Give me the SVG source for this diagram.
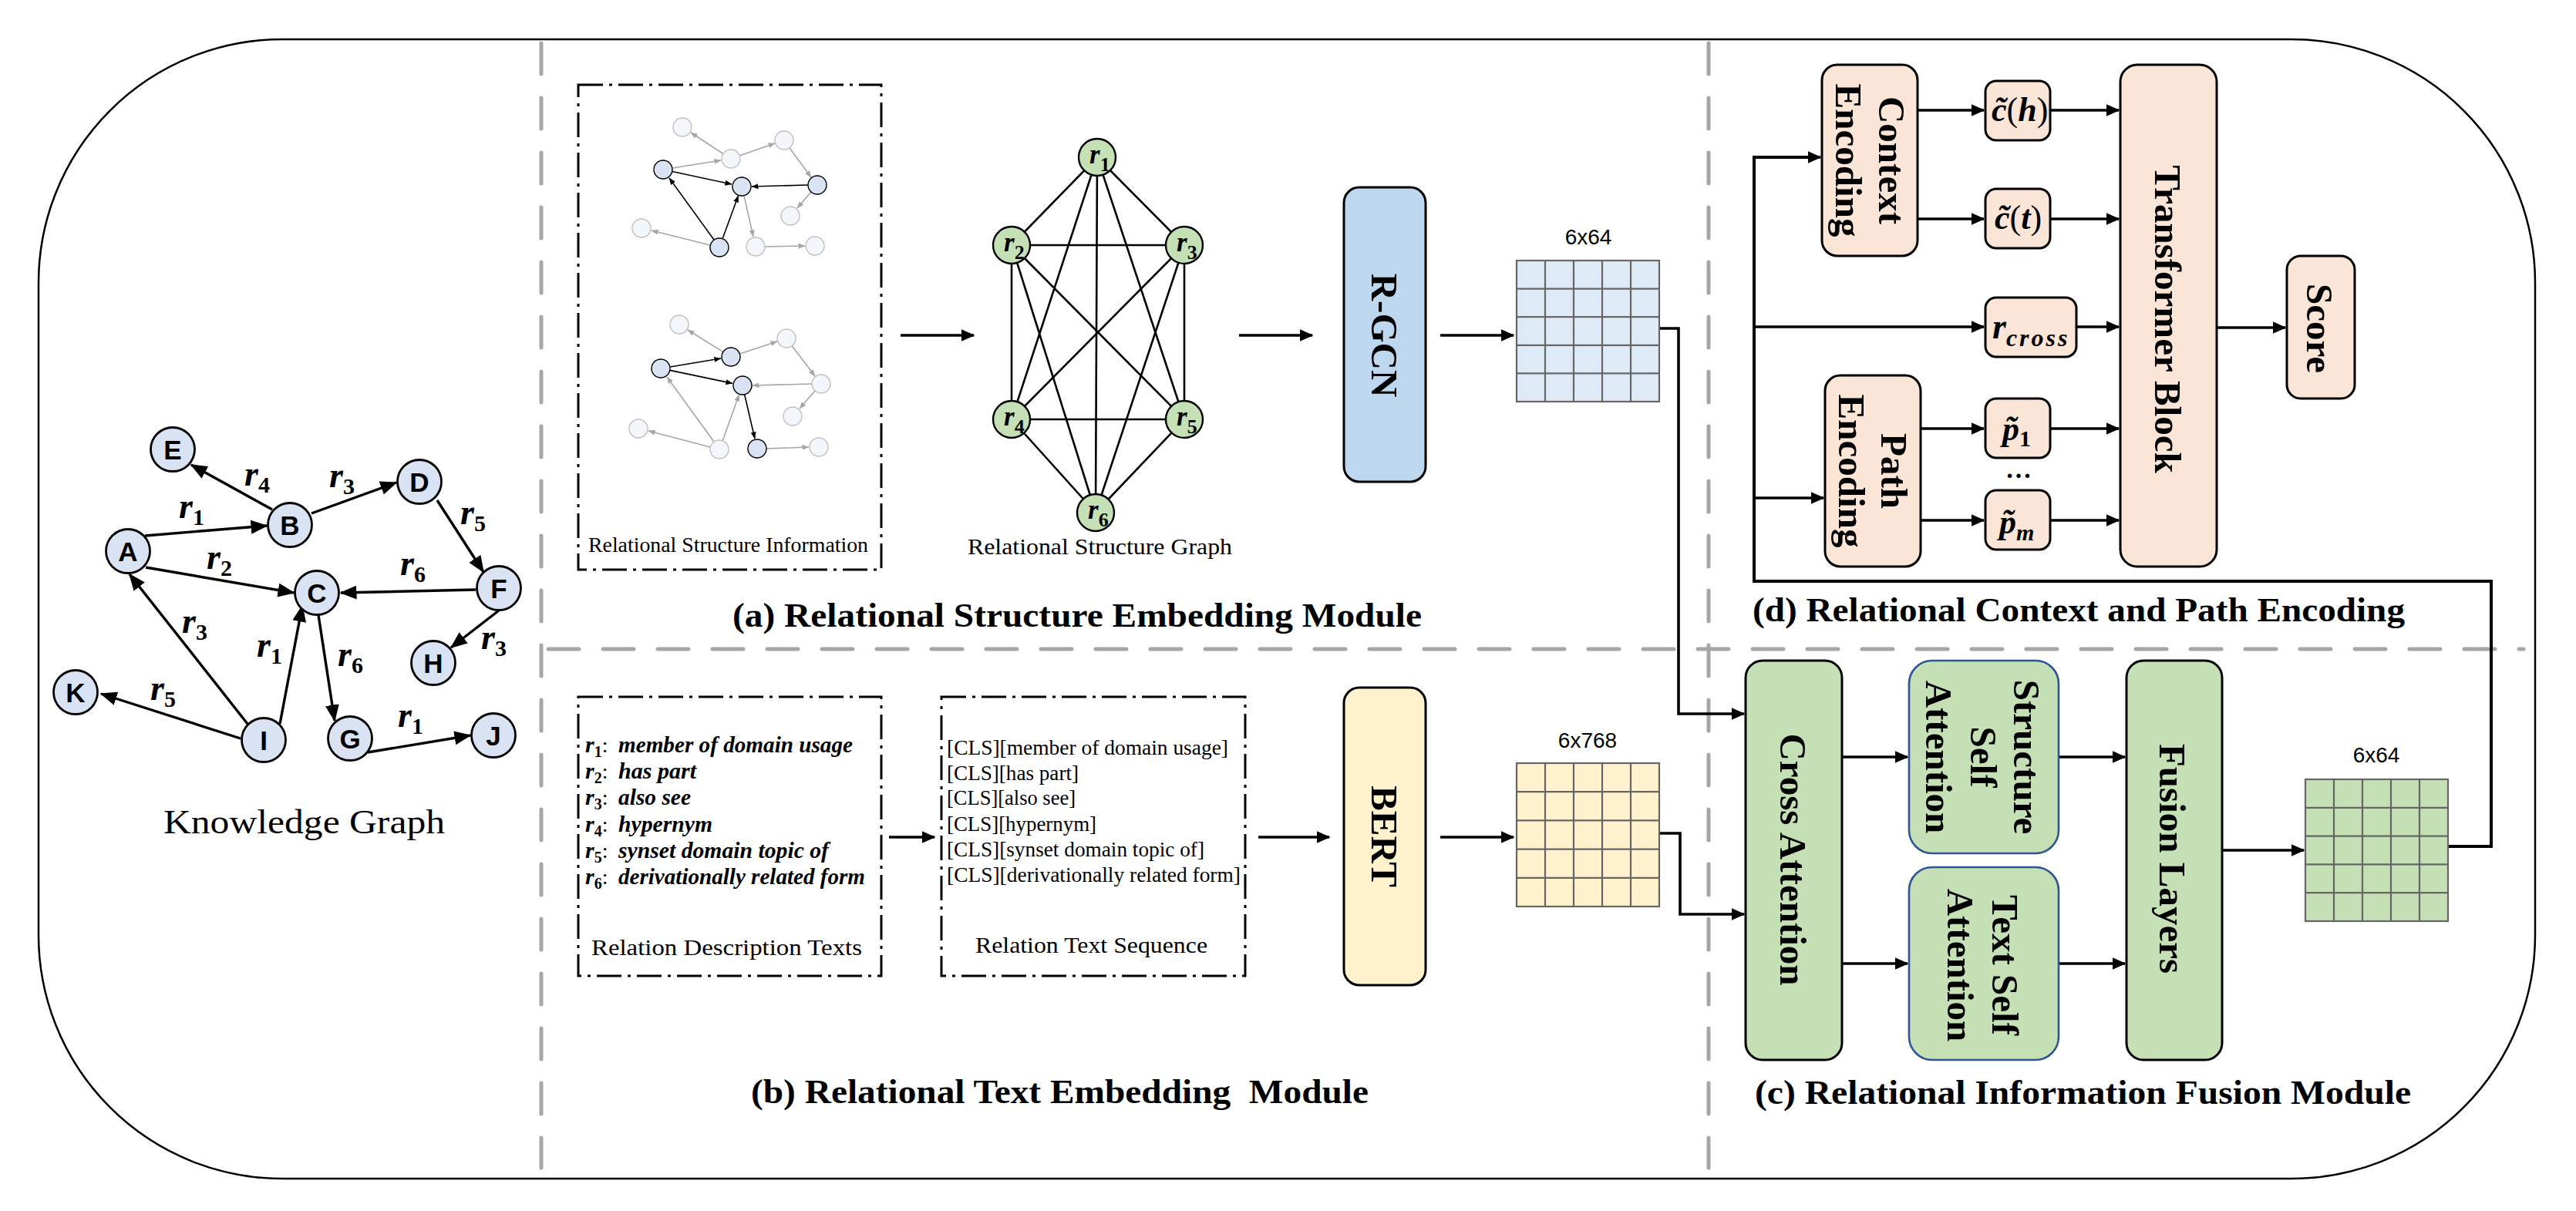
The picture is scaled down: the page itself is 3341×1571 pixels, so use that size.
<svg xmlns="http://www.w3.org/2000/svg" width="3341" height="1571" viewBox="0 0 3341 1571">
<defs>
<marker id="ah" markerUnits="userSpaceOnUse" markerWidth="18" markerHeight="16" viewBox="0 0 18 16" refX="16.5" refY="8" orient="auto"><path d="M0,0 L18,8 L0,16 z" fill="#000"/></marker>
<marker id="ahk" markerUnits="userSpaceOnUse" markerWidth="22" markerHeight="18" viewBox="0 0 22 18" refX="20.5" refY="9" orient="auto"><path d="M0,0 L22,9 L0,18 z" fill="#000"/></marker>
<marker id="ahs" markerUnits="userSpaceOnUse" markerWidth="9" markerHeight="7" viewBox="0 0 9 7" refX="8.5" refY="3.5" orient="auto"><path d="M0,0 L9,3.5 L0,7 z" fill="#000"/></marker>
<marker id="ahg" markerUnits="userSpaceOnUse" markerWidth="9" markerHeight="7" viewBox="0 0 9 7" refX="8.5" refY="3.5" orient="auto"><path d="M0,0 L9,3.5 L0,7 z" fill="#A6A6A6"/></marker>
</defs>
<style>
.border{fill:none;stroke:#000;stroke-width:2.5}
.gdash{fill:none;stroke:#A6A6A6;stroke-width:5;stroke-linecap:round;stroke-dasharray:40 31}
.ddot{fill:none;stroke:#000;stroke-width:3;stroke-dasharray:32 8 4 8}
.conn{fill:none;stroke:#000;stroke-width:3.6;marker-end:url(#ah)}
.loop{fill:none;stroke:#000;stroke-width:4}
.kge{fill:none;stroke:#000;stroke-width:3.4;marker-end:url(#ahk)}
.rse{fill:none;stroke:#000;stroke-width:2.6}
.sd{fill:none;stroke:#000;stroke-width:1.6;marker-end:url(#ahs)}
.sg{fill:none;stroke:#A6A6A6;stroke-width:1.6;marker-end:url(#ahg)}
.nd{fill:#DAE3F3;stroke:#000;stroke-width:1.4}
.ng{fill:#F3F6FB;stroke:#C0C0C0;stroke-width:1.4}
.kgn{fill:#DAE3F3;stroke:#000;stroke-width:2.8}
.rsn{fill:#C5E0B4;stroke:#000;stroke-width:2.4}
.blue{fill:#BDD7EE;stroke:#000;stroke-width:3}
.yel{fill:#FFF2CC;stroke:#000;stroke-width:3}
.peach{fill:#FBE5D6;stroke:#000;stroke-width:3}
.green{fill:#C5E0B4;stroke:#000;stroke-width:3}
.greenb{fill:#C5E0B4;stroke:#2F5597;stroke-width:2.6}
.grid{stroke:#666;stroke-width:2.2}
.serif{font-family:"Liberation Serif",serif}
.lab{font-family:"Liberation Serif",serif;font-weight:bold;font-size:45px}
.cap{font-family:"Liberation Serif",serif;font-size:30px}
.vt{font-family:"Liberation Serif",serif;font-weight:bold;font-size:49px;text-anchor:middle}
.mi{font-family:"Liberation Serif",serif;font-weight:bold;font-style:italic}
.up{font-style:normal}
.dim{font-family:"Liberation Sans",sans-serif;font-size:28px;text-anchor:middle}
.kgl{font-family:"Liberation Sans",sans-serif;font-weight:bold;font-size:35px;text-anchor:middle}
.desc{font-family:"Liberation Serif",serif;font-style:italic;font-weight:bold;font-size:30px}
.cls{font-family:"Liberation Serif",serif;font-size:28px}
</style>
<rect width="3341" height="1571" fill="#fff"/>

<!-- outer frame and panel separators -->
<g id="frame">
<rect class="border" x="50" y="51" width="3238" height="1478" rx="316" ry="316"/>
<line class="gdash" x1="702" y1="56" x2="702" y2="1515"/>
<line class="gdash" x1="2216" y1="56" x2="2216" y2="1515"/>
<line class="gdash" x1="711" y1="842" x2="3273" y2="842"/>
</g>

<!-- section labels -->
<g id="labels">
<text class="lab" x="950" y="813" textLength="894" lengthAdjust="spacingAndGlyphs">(a) Relational Structure Embedding Module</text>
<text class="lab" x="974" y="1431" textLength="801" lengthAdjust="spacingAndGlyphs" xml:space="preserve">(b) Relational Text Embedding  Module</text>
<text class="lab" x="2276" y="1432" textLength="851" lengthAdjust="spacingAndGlyphs">(c) Relational Information Fusion Module</text>
<text class="lab" x="2273" y="806" textLength="846" lengthAdjust="spacingAndGlyphs">(d) Relational Context and Path Encoding</text>
<text class="serif" x="212" y="1081" font-size="44" textLength="365" lengthAdjust="spacingAndGlyphs">Knowledge Graph</text>
</g>

<!-- connectors -->
<g id="connectors">
<!-- knowledge graph edges -->
<line class="kge" x1="353" y1="661" x2="248" y2="603"/>
<line class="kge" x1="188" y1="695" x2="346" y2="682"/>
<line class="kge" x1="404" y1="666" x2="514" y2="626"/>
<line class="kge" x1="567" y1="649" x2="627" y2="742"/>
<line class="kge" x1="189" y1="736" x2="381" y2="769"/>
<line class="kge" x1="617" y1="765" x2="442" y2="769"/>
<line class="kge" x1="647" y1="792" x2="585" y2="840"/>
<line class="kge" x1="321" y1="939" x2="168" y2="745"/>
<line class="kge" x1="363" y1="939" x2="392" y2="786"/>
<line class="kge" x1="413" y1="798" x2="434" y2="935"/>
<line class="kge" x1="312" y1="958" x2="131" y2="900"/>
<line class="kge" x1="477" y1="976" x2="610" y2="954"/>

<!-- relational structure graph (complete graph) -->
<g id="rs-graph-edges">
<line class="rse" x1="1423" y1="204" x2="1312" y2="318"/>
<line class="rse" x1="1423" y1="204" x2="1536" y2="318"/>
<line class="rse" x1="1423" y1="204" x2="1312" y2="544"/>
<line class="rse" x1="1423" y1="204" x2="1536" y2="544"/>
<line class="rse" x1="1423" y1="204" x2="1421" y2="665"/>
<line class="rse" x1="1312" y1="318" x2="1536" y2="318"/>
<line class="rse" x1="1312" y1="318" x2="1312" y2="544"/>
<line class="rse" x1="1312" y1="318" x2="1536" y2="544"/>
<line class="rse" x1="1312" y1="318" x2="1421" y2="665"/>
<line class="rse" x1="1536" y1="318" x2="1312" y2="544"/>
<line class="rse" x1="1536" y1="318" x2="1536" y2="544"/>
<line class="rse" x1="1536" y1="318" x2="1421" y2="665"/>
<line class="rse" x1="1312" y1="544" x2="1536" y2="544"/>
<line class="rse" x1="1312" y1="544" x2="1421" y2="665"/>
<line class="rse" x1="1536" y1="544" x2="1421" y2="665"/>
</g>

<!-- panel a flow -->
<line class="conn" x1="1168" y1="435" x2="1263" y2="435"/>
<line class="conn" x1="1607" y1="435" x2="1702" y2="435"/>
<line class="conn" x1="1868" y1="435" x2="1963" y2="435"/>
<path class="conn" d="M2152,426 H2177 V926 H2262"/>
<!-- panel b flow -->
<line class="conn" x1="1153" y1="1086" x2="1212" y2="1086"/>
<line class="conn" x1="1632" y1="1086" x2="1724" y2="1086"/>
<line class="conn" x1="1868" y1="1086" x2="1963" y2="1086"/>
<path class="conn" d="M2152,1081 H2179 V1186 H2262"/>
<!-- panel c flow -->
<line class="conn" x1="2389" y1="982" x2="2474" y2="982"/>
<line class="conn" x1="2389" y1="1250" x2="2474" y2="1250"/>
<line class="conn" x1="2670" y1="982" x2="2756" y2="982"/>
<line class="conn" x1="2670" y1="1250" x2="2756" y2="1250"/>
<line class="conn" x1="2882" y1="1103" x2="2988" y2="1103"/>
<!-- feedback loop into panel d -->
<path class="loop" d="M3175,1098 H3231 V754 H2275 V204 H2345"/>
<line class="conn" x1="2340" y1="204" x2="2361" y2="204"/>
<line class="conn" x1="2275" y1="424" x2="2573" y2="424"/>
<line class="conn" x1="2275" y1="646" x2="2365" y2="646"/>
<!-- panel d flow -->
<line class="conn" x1="2487" y1="143" x2="2573" y2="143"/>
<line class="conn" x1="2659" y1="143" x2="2748" y2="143"/>
<line class="conn" x1="2487" y1="284" x2="2573" y2="284"/>
<line class="conn" x1="2659" y1="284" x2="2748" y2="284"/>
<line class="conn" x1="2693" y1="424" x2="2748" y2="424"/>
<line class="conn" x1="2491" y1="556" x2="2573" y2="556"/>
<line class="conn" x1="2659" y1="556" x2="2748" y2="556"/>
<line class="conn" x1="2491" y1="675" x2="2573" y2="675"/>
<line class="conn" x1="2659" y1="675" x2="2748" y2="675"/>
<line class="conn" x1="2875" y1="425" x2="2964" y2="425"/>
</g>

<!-- knowledge graph nodes -->
<g id="kg-A"><circle class="kgn" cx="166" cy="715" r="28.5"/><text class="kgl" x="166" y="728">A</text></g>
<g id="kg-B"><circle class="kgn" cx="376" cy="681" r="28.5"/><text class="kgl" x="376" y="694">B</text></g>
<g id="kg-C"><circle class="kgn" cx="411" cy="769" r="28.5"/><text class="kgl" x="411" y="782">C</text></g>
<g id="kg-D"><circle class="kgn" cx="544" cy="625" r="28.5"/><text class="kgl" x="544" y="638">D</text></g>
<g id="kg-E"><circle class="kgn" cx="224" cy="583" r="28.5"/><text class="kgl" x="224" y="596">E</text></g>
<g id="kg-F"><circle class="kgn" cx="647" cy="763" r="28.5"/><text class="kgl" x="647" y="776">F</text></g>
<g id="kg-G"><circle class="kgn" cx="454" cy="958" r="28.5"/><text class="kgl" x="454" y="971">G</text></g>
<g id="kg-H"><circle class="kgn" cx="562" cy="860" r="28.5"/><text class="kgl" x="562" y="873">H</text></g>
<g id="kg-I"><circle class="kgn" cx="342" cy="960" r="28.5"/><text class="kgl" x="342" y="973">I</text></g>
<g id="kg-J"><circle class="kgn" cx="640" cy="954" r="28.5"/><text class="kgl" x="640" y="967">J</text></g>
<g id="kg-K"><circle class="kgn" cx="98" cy="898" r="28.5"/><text class="kgl" x="98" y="911">K</text></g>

<!-- knowledge graph edge labels -->
<g id="kg-edge-labels" class="mi" font-size="46">
<text x="317" y="630">r<tspan class="up" font-size="30" dy="9">4</tspan></text>
<text x="427" y="632">r<tspan class="up" font-size="30" dy="9">3</tspan></text>
<text x="232" y="672">r<tspan class="up" font-size="30" dy="9">1</tspan></text>
<text x="597" y="680">r<tspan class="up" font-size="30" dy="9">5</tspan></text>
<text x="268" y="738">r<tspan class="up" font-size="30" dy="9">2</tspan></text>
<text x="519" y="746">r<tspan class="up" font-size="30" dy="9">6</tspan></text>
<text x="236" y="821">r<tspan class="up" font-size="30" dy="9">3</tspan></text>
<text x="333" y="852">r<tspan class="up" font-size="30" dy="9">1</tspan></text>
<text x="438" y="864">r<tspan class="up" font-size="30" dy="9">6</tspan></text>
<text x="624" y="842">r<tspan class="up" font-size="30" dy="9">3</tspan></text>
<text x="195" y="908">r<tspan class="up" font-size="30" dy="9">5</tspan></text>
<text x="516" y="943">r<tspan class="up" font-size="30" dy="9">1</tspan></text>
</g>

<!-- relational structure information box -->
<g id="rs-info">
<rect class="ddot" x="750" y="110" width="393" height="629"/>
<g id="rs-info-graph1">
<line class="sg" x1="938" y1="199.5" x2="896" y2="172"/>
<line class="sg" x1="872" y1="218" x2="935" y2="208"/>
<line class="sg" x1="959" y1="202" x2="1005" y2="186"/>
<line class="sg" x1="1024" y1="192" x2="1052" y2="230"/>
<line class="sg" x1="1052" y1="249" x2="1034" y2="270"/>
<line class="sg" x1="921" y1="318" x2="845" y2="299"/>
<line class="sg" x1="965" y1="254" x2="977" y2="307"/>
<line class="sg" x1="992" y1="320" x2="1044" y2="319"/>
<line class="sd" x1="872" y1="222.5" x2="949" y2="239"/>
<line class="sd" x1="1048" y1="240" x2="975" y2="242"/>
<line class="sd" x1="926" y1="311" x2="868" y2="231"/>
<line class="sd" x1="937" y1="310" x2="957.5" y2="254"/>
<circle class="ng" cx="885" cy="165" r="12"/>
<circle class="ng" cx="948" cy="206" r="12"/>
<circle class="ng" cx="1017" cy="182" r="12"/>
<circle class="ng" cx="1025" cy="280" r="12"/>
<circle class="ng" cx="832" cy="296" r="12"/>
<circle class="ng" cx="980" cy="320" r="12"/>
<circle class="ng" cx="1057" cy="319" r="12"/>
<circle class="nd" cx="860" cy="220" r="12"/>
<circle class="nd" cx="962" cy="242" r="12"/>
<circle class="nd" cx="1060" cy="240" r="12"/>
<circle class="nd" cx="933" cy="321" r="12"/>
</g>
<g id="rs-info-graph2">
<line class="sg" x1="938" y1="456.6" x2="892" y2="428"/>
<line class="sg" x1="959.4" y1="459" x2="1008" y2="443"/>
<line class="sg" x1="1027" y1="448.5" x2="1057" y2="488"/>
<line class="sg" x1="1053" y1="498" x2="976" y2="500"/>
<line class="sg" x1="1057" y1="507" x2="1037" y2="530"/>
<line class="sg" x1="926" y1="573" x2="865" y2="489"/>
<line class="sg" x1="937" y1="572" x2="958.6" y2="512"/>
<line class="sg" x1="921" y1="580" x2="841" y2="559"/>
<line class="sg" x1="994" y1="582" x2="1049" y2="580"/>
<line class="sd" x1="869" y1="476" x2="935" y2="465"/>
<line class="sd" x1="869" y1="480.4" x2="950" y2="497.4"/>
<line class="sd" x1="965.7" y1="512" x2="979" y2="569"/>
<circle class="ng" cx="881" cy="421" r="12"/>
<circle class="ng" cx="1020" cy="439" r="12"/>
<circle class="ng" cx="1065" cy="498" r="12"/>
<circle class="ng" cx="1028" cy="540" r="12"/>
<circle class="ng" cx="828" cy="556" r="12"/>
<circle class="ng" cx="933" cy="583" r="12"/>
<circle class="ng" cx="1062" cy="580" r="12"/>
<circle class="nd" cx="948" cy="463" r="12"/>
<circle class="nd" cx="857" cy="478" r="12"/>
<circle class="nd" cx="963" cy="500" r="12"/>
<circle class="nd" cx="982" cy="582" r="12"/>
</g>
<text class="serif" x="763" y="716" font-size="27" textLength="363" lengthAdjust="spacingAndGlyphs">Relational Structure Information</text>
</g>

<!-- relational structure graph nodes -->
<g id="rs-graph">
<g id="rs-r1"><circle class="rsn" cx="1423" cy="204" r="24"/><text class="mi" x="1413" y="212" font-size="35">r<tspan class="up" font-size="26" dy="10">1</tspan></text></g>
<g id="rs-r2"><circle class="rsn" cx="1312" cy="318" r="24"/><text class="mi" x="1302" y="326" font-size="35">r<tspan class="up" font-size="26" dy="10">2</tspan></text></g>
<g id="rs-r3"><circle class="rsn" cx="1536" cy="318" r="24"/><text class="mi" x="1526" y="326" font-size="35">r<tspan class="up" font-size="26" dy="10">3</tspan></text></g>
<g id="rs-r4"><circle class="rsn" cx="1312" cy="544" r="24"/><text class="mi" x="1302" y="552" font-size="35">r<tspan class="up" font-size="26" dy="10">4</tspan></text></g>
<g id="rs-r5"><circle class="rsn" cx="1536" cy="544" r="24"/><text class="mi" x="1526" y="552" font-size="35">r<tspan class="up" font-size="26" dy="10">5</tspan></text></g>
<g id="rs-r6"><circle class="rsn" cx="1421" cy="665" r="24"/><text class="mi" x="1411" y="673" font-size="35">r<tspan class="up" font-size="26" dy="10">6</tspan></text></g>
<text class="serif" x="1255" y="719" font-size="30" textLength="343" lengthAdjust="spacingAndGlyphs">Relational Structure Graph</text>
</g>

<!-- R-GCN -->
<g id="rgcn">
<rect class="blue" x="1743" y="243" width="106" height="382" rx="20"/>
<text class="vt" font-size="48" transform="translate(1796,435) rotate(90)" x="0" y="17">R-GCN</text>
</g>

<!-- structure embedding grid -->
<g id="grid-struct">
<text class="dim" x="2060" y="317">6x64</text>
<rect x="1967" y="338" width="185" height="183" fill="#DEEBF7" class="grid"/>
<path class="grid" fill="none" d="M2004,338 V521 M2041,338 V521 M2078,338 V521 M2115,338 V521 M1967,374.6 H2152 M1967,411.2 H2152 M1967,447.8 H2152 M1967,484.4 H2152"/>
</g>

<!-- relation description texts -->
<g id="rel-desc">
<rect class="ddot" x="750" y="904" width="393" height="362"/>
<g class="mi" font-size="30">
<text x="759" y="976">r<tspan class="up" font-size="20" dy="6">1</tspan><tspan class="up" font-weight="normal" font-size="28" dy="-6">:</tspan></text>
<text x="759" y="1010">r<tspan class="up" font-size="20" dy="6">2</tspan><tspan class="up" font-weight="normal" font-size="28" dy="-6">:</tspan></text>
<text x="759" y="1044">r<tspan class="up" font-size="20" dy="6">3</tspan><tspan class="up" font-weight="normal" font-size="28" dy="-6">:</tspan></text>
<text x="759" y="1079">r<tspan class="up" font-size="20" dy="6">4</tspan><tspan class="up" font-weight="normal" font-size="28" dy="-6">:</tspan></text>
<text x="759" y="1113">r<tspan class="up" font-size="20" dy="6">5</tspan><tspan class="up" font-weight="normal" font-size="28" dy="-6">:</tspan></text>
<text x="759" y="1147">r<tspan class="up" font-size="20" dy="6">6</tspan><tspan class="up" font-weight="normal" font-size="28" dy="-6">:</tspan></text>
</g>
<text class="desc" x="802" y="976" textLength="304" lengthAdjust="spacingAndGlyphs">member of domain usage</text>
<text class="desc" x="802" y="1010" textLength="101" lengthAdjust="spacingAndGlyphs">has part</text>
<text class="desc" x="802" y="1044" textLength="94" lengthAdjust="spacingAndGlyphs">also see</text>
<text class="desc" x="802" y="1079" textLength="122" lengthAdjust="spacingAndGlyphs">hypernym</text>
<text class="desc" x="802" y="1113" textLength="273" lengthAdjust="spacingAndGlyphs">synset domain topic of</text>
<text class="desc" x="802" y="1147" textLength="320" lengthAdjust="spacingAndGlyphs">derivationally related form</text>
<text class="cap" x="767" y="1239" textLength="351" lengthAdjust="spacingAndGlyphs">Relation Description Texts</text>
</g>

<!-- relation text sequence -->
<g id="rel-seq">
<rect class="ddot" x="1221" y="904" width="394" height="362"/>
<text class="cls" x="1228" y="979" textLength="365" lengthAdjust="spacingAndGlyphs">[CLS][member of domain usage]</text>
<text class="cls" x="1228" y="1012" textLength="171" lengthAdjust="spacingAndGlyphs">[CLS][has part]</text>
<text class="cls" x="1228" y="1044" textLength="167" lengthAdjust="spacingAndGlyphs">[CLS][also see]</text>
<text class="cls" x="1228" y="1078" textLength="194" lengthAdjust="spacingAndGlyphs">[CLS][hypernym]</text>
<text class="cls" x="1228" y="1111" textLength="334" lengthAdjust="spacingAndGlyphs">[CLS][synset domain topic of]</text>
<text class="cls" x="1228" y="1144" textLength="381" lengthAdjust="spacingAndGlyphs">[CLS][derivationally related form]</text>
<text class="cap" x="1265" y="1236" textLength="301" lengthAdjust="spacingAndGlyphs">Relation Text Sequence</text>
</g>

<!-- BERT -->
<g id="bert">
<rect class="yel" x="1743" y="892" width="106" height="386" rx="20"/>
<text class="vt" font-size="48" transform="translate(1796,1085) rotate(90)" x="0" y="17">BERT</text>
</g>

<!-- text embedding grid -->
<g id="grid-text">
<text class="dim" x="2059" y="970">6x768</text>
<rect x="1967" y="990" width="185" height="186" fill="#FFF2CC" class="grid"/>
<path class="grid" fill="none" d="M2004,990 V1176 M2041,990 V1176 M2078,990 V1176 M2115,990 V1176 M1967,1027.2 H2152 M1967,1064.4 H2152 M1967,1101.6 H2152 M1967,1138.8 H2152"/>
</g>

<!-- panel c -->
<g id="cross-attention">
<rect class="green" x="2264" y="857" width="125" height="518" rx="22"/>
<text class="vt" transform="translate(2326,1115) rotate(90)" x="0" y="17">Cross Attention</text>
</g>
<g id="structure-self-attention">
<rect class="greenb" x="2476" y="857" width="194" height="250" rx="30"/>
<text class="vt" transform="translate(2573,982) rotate(90)"><tspan x="0" y="-39">Structure</tspan><tspan x="0" y="17">Self</tspan><tspan x="0" y="75">Attention</tspan></text>
</g>
<g id="text-self-attention">
<rect class="greenb" x="2476" y="1125" width="194" height="250" rx="30"/>
<text class="vt" transform="translate(2573,1252) rotate(90)"><tspan x="0" y="-11">Text Self</tspan><tspan x="0" y="47">Attention</tspan></text>
</g>
<g id="fusion-layers">
<rect class="green" x="2758" y="857" width="124" height="518" rx="22"/>
<text class="vt" transform="translate(2820,1114) rotate(90)" x="0" y="19">Fusion Layers</text>
</g>
<g id="grid-fusion">
<text class="dim" x="3082" y="989">6x64</text>
<rect x="2990" y="1011" width="185" height="184" fill="#C5E0B4" class="grid"/>
<path class="grid" fill="none" d="M3027,1011 V1195 M3064,1011 V1195 M3101,1011 V1195 M3138,1011 V1195 M2990,1047.8 H3175 M2990,1084.6 H3175 M2990,1121.4 H3175 M2990,1158.2 H3175"/>
</g>

<!-- panel d -->
<g id="context-encoding">
<rect class="peach" x="2363" y="84" width="124" height="248" rx="20"/>
<text class="vt" transform="translate(2425,208) rotate(90)"><tspan x="0" y="-12">Context</tspan><tspan x="0" y="44">Encoding</tspan></text>
</g>
<g id="path-encoding">
<rect class="peach" x="2367" y="487" width="124" height="248" rx="20"/>
<text class="vt" transform="translate(2429,611) rotate(90)"><tspan x="0" y="-11">Path</tspan><tspan x="0" y="44">Encoding</tspan></text>
</g>
<g id="c-h">
<rect class="peach" x="2575" y="105" width="84" height="77" rx="14"/>
<text class="mi" x="2583" y="157" font-size="44">c&#x303;<tspan class="up" font-weight="normal">(</tspan>h<tspan class="up" font-weight="normal">)</tspan></text>
</g>
<g id="c-t">
<rect class="peach" x="2575" y="245" width="84" height="77" rx="14"/>
<text class="mi" x="2587" y="297" font-size="44">c&#x303;<tspan class="up" font-weight="normal">(</tspan>t<tspan class="up" font-weight="normal">)</tspan></text>
</g>
<g id="r-cross">
<rect class="peach" x="2575" y="386" width="118" height="77" rx="14"/>
<text class="mi" x="2584" y="439" font-size="46">r<tspan font-size="32" dy="10" letter-spacing="3">cross</tspan></text>
</g>
<g id="p-1">
<rect class="peach" x="2575" y="517" width="84" height="77" rx="14"/>
<text class="mi" x="2597" y="571" font-size="44">p&#x303;<tspan class="up" font-size="30" dy="8">1</tspan></text>
</g>
<text class="mi up" x="2618" y="620" font-size="34" text-anchor="middle">…</text>
<g id="p-m">
<rect class="peach" x="2575" y="636" width="84" height="77" rx="14"/>
<text class="mi" x="2593" y="692" font-size="44">p&#x303;<tspan font-size="30" dy="9">m</tspan></text>
</g>
<g id="transformer-block">
<rect class="peach" x="2750" y="84" width="125" height="651" rx="22"/>
<text class="vt" transform="translate(2812,414) rotate(90)" x="0" y="17">Transformer Block</text>
</g>
<g id="score">
<rect class="peach" x="2966" y="332" width="88" height="185" rx="18"/>
<text class="vt" transform="translate(3010,426) rotate(90)" x="0" y="18">Score</text>
</g>
</svg>
